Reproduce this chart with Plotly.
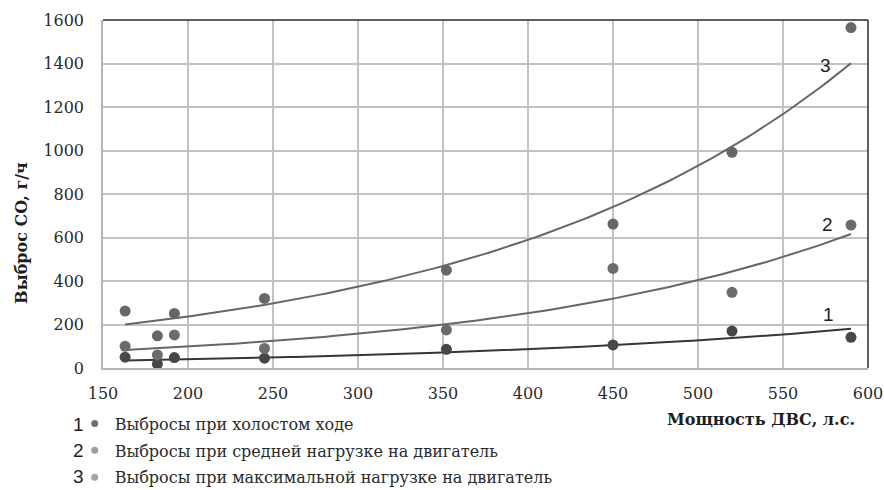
import numpy as np
import plotly.graph_objects as go

# ---- data ----
power_hp = [163, 182, 192, 245, 352, 450, 520, 590]
co_idle = [50, 18, 48, 45, 86, 106, 170, 141]
co_medium = [100, 60, 152, 90, 175, 458, 348, 657]
co_maximum = [262, 148, 251, 320, 450, 662, 992, 1565]

series_names = [
    "Выбросы при холостом ходе",
    "Выбросы при средней нагрузке на двигатель",
    "Выбросы при максимальной нагрузке на двигатель",
]
series_numbers = ["1", "2", "3"]
x_ticks = [150, 200, 250, 300, 350, 400, 450, 500, 550, 600]
y_ticks = [0, 200, 400, 600, 800, 1000, 1200, 1400, 1600]

marker_colors = ["#474747", "#6c6c6c", "#676767"]
legend_colors = ["#6f6f6f", "#9c9c9c", "#a3a3a3"]
line_colors = ["#363636", "#666666", "#666666"]

SERIF = "DejaVu Serif"
SANS = "Liberation Sans, Arial, sans-serif"

fig = go.Figure()

xs = np.array(power_hp, dtype=float)
x_fit = np.linspace(xs.min(), xs.max(), 120)
all_series = [co_idle, co_medium, co_maximum]

# exponential trend lines (least squares on log values, like a spreadsheet trendline)
for vals, lc in zip(all_series, line_colors):
    b, a = np.polyfit(xs, np.log(np.array(vals, dtype=float)), 1)
    fig.add_trace(go.Scatter(x=x_fit, y=np.exp(a + b * x_fit), mode="lines",
                             line=dict(color=lc, width=2), showlegend=False,
                             hoverinfo="skip"))

# data points
for vals, mc, name in zip(all_series, marker_colors, series_names):
    fig.add_trace(go.Scatter(x=power_hp, y=vals, mode="markers",
                             marker=dict(color=mc, size=11), name=name,
                             showlegend=False))

# legend entries (small markers)
for i, (name, lc) in enumerate(zip(series_names, legend_colors)):
    fig.add_trace(go.Scatter(x=[None], y=[None], mode="markers",
                             marker=dict(color=lc, size=7), name=name,
                             legendgroup=f"g{i}", showlegend=True))

# curve labels
label_x = [577, 576, 575]
label_y = [244, 662, 1393]
for num, lx, ly in zip(series_numbers, label_x, label_y):
    fig.add_annotation(x=lx, y=ly, text=num, showarrow=False,
                       font=dict(family=SANS, size=19, color="#1e1e1e"),
                       xanchor="center", yanchor="middle")

# legend numbers
leg_rows_y = [-0.161, -0.236, -0.313]
for num, ly in zip(series_numbers, leg_rows_y):
    fig.add_annotation(xref="paper", yref="paper", x=-0.032, y=ly, text=num,
                       showarrow=False, xanchor="center", yanchor="middle",
                       font=dict(family=SANS, size=19, color="#1e1e1e"))

# axis titles
fig.add_annotation(xref="paper", yref="paper", x=0.986, y=-0.149,
                   text="<b>Мощность ДВС, л.с.</b>", showarrow=False,
                   xanchor="right", yanchor="middle",
                   font=dict(family=SERIF, size=16, color="#1e1e1e"))
fig.add_annotation(xref="paper", yref="paper", x=-0.106, y=0.388,
                   text="<b>Выброс CO, г/ч</b>", showarrow=False, textangle=-90,
                   xanchor="center", yanchor="middle",
                   font=dict(family=SERIF, size=16, color="#1e1e1e"))

# top and right frame lines
fig.add_shape(type="line", xref="paper", yref="paper", x0=0, x1=1, y0=1, y1=1,
              line=dict(color="#2a2a2a", width=1.5))
fig.add_shape(type="line", xref="paper", yref="paper", x0=1, x1=1, y0=0, y1=1,
              line=dict(color="#2a2a2a", width=1.5))

fig.update_layout(
    width=884, height=490,
    margin=dict(l=103, r=16, t=20, b=122, autoexpand=False),
    paper_bgcolor="white", plot_bgcolor="white",
    font=dict(family=SERIF, size=16, color="#2a2a2a"),
    xaxis=dict(range=[150, 600], tickvals=x_ticks, showgrid=True,
               gridcolor="#c2c2c2", gridwidth=1.5, zeroline=False,
               showline=True, linecolor="#b5b5b5", linewidth=1.5,
               ticks="", ticklabelstandoff=10,
               tickfont=dict(family=SERIF, size=16, color="#2a2a2a")),
    yaxis=dict(range=[0, 1600], tickvals=y_ticks, showgrid=True,
               gridcolor="#c2c2c2", gridwidth=1.5, zeroline=False,
               showline=True, linecolor="#b5b5b5", linewidth=1.5,
               ticks="", ticklabelstandoff=14,
               tickfont=dict(family=SERIF, size=16, color="#2a2a2a")),
    legend=dict(x=-0.037, y=-0.111, xanchor="left", yanchor="top",
                orientation="v", tracegroupgap=3,
                font=dict(family=SERIF, size=16, color="#2a2a2a"),
                bgcolor="rgba(0,0,0,0)"),
    showlegend=True,
)

fig.write_html("out.html",
               config={"displayModeBar": False},
               post_script="document.body.style.margin='0';"
                           "document.body.style.overflow='hidden';")
